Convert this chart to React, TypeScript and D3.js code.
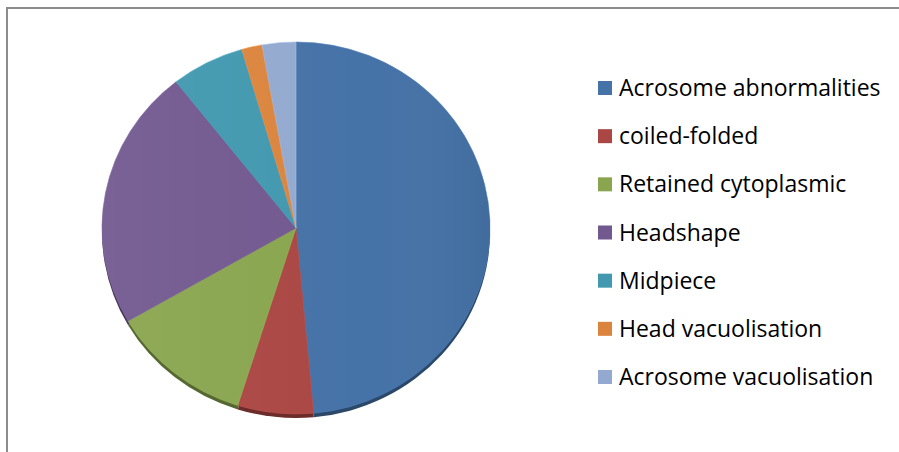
import React, { useRef, useEffect } from "react";
import * as d3 from "d3";

const categories = [
  "Acrosome abnormalities",
  "coiled-folded",
  "Retained cytoplasmic",
  "Headshape",
  "Midpiece",
  "Head vacuolisation",
  "Acrosome vacuolisation",
];
const values = [48.5, 6.3, 11.8, 22.7, 6.1, 1.7, 2.8];
const colors = ["#4572A7", "#AA4643", "#89A54E", "#71588F", "#4198AF", "#DB843D", "#93A9CF"];

const App: React.FC = () => {
  const ref = useRef<SVGSVGElement>(null);

  useEffect(() => {
    const svg = d3.select(ref.current);
    svg.selectAll("*").remove();

    const width = 899,
      height = 452;
    const cx = 296,
      cy = 228,
      rx = 194,
      ry = 186;

    // frame (only top and left edges visible)
    svg
      .append("path")
      .attr("d", `M7,${height} V8 H${width}`)
      .attr("fill", "none")
      .attr("stroke", "#8c8c8c")
      .attr("stroke-width", 2);

    const pie = d3
      .pie<number>()
      .sort(null)
      .value((d) => d);
    const arcs = pie(values);
    const arc = d3.arc<d3.PieArcDatum<number>>().innerRadius(0).outerRadius(rx);

    const defs = svg.append("defs");
    const shade = defs
      .append("linearGradient")
      .attr("id", "shade")
      .attr("x1", 0)
      .attr("x2", 1)
      .attr("y1", 0)
      .attr("y2", 0);
    shade.append("stop").attr("offset", "0%").attr("stop-color", "#fff").attr("stop-opacity", 0.06);
    shade.append("stop").attr("offset", "70%").attr("stop-color", "#fff").attr("stop-opacity", 0);
    shade.append("stop").attr("offset", "100%").attr("stop-color", "#000").attr("stop-opacity", 0.06);

    // 3D edge underneath
    const depth = svg
      .append("g")
      .attr("transform", `translate(${cx},${cy + 4}) scale(1,${ry / rx})`);
    depth
      .selectAll("path")
      .data(arcs)
      .enter()
      .append("path")
      .attr("d", arc)
      .attr("fill", (_, i) => d3.color(colors[i])!.darker(1.3).toString());

    const g = svg
      .append("g")
      .attr("transform", `translate(${cx},${cy}) scale(1,${ry / rx})`);
    g.selectAll("path.slice")
      .data(arcs)
      .enter()
      .append("path")
      .attr("class", "slice")
      .attr("d", arc)
      .attr("fill", (_, i) => colors[i])
      .attr("stroke", (_, i) => d3.color(colors[i])!.brighter(0.3).toString())
      .attr("stroke-width", 0.6);
    g.append("circle").attr("r", rx).attr("fill", "url(#shade)");

    // legend
    const yScale = d3
      .scalePoint<string>()
      .domain(categories)
      .range([88, 377]);
    const legend = svg
      .append("g")
      .selectAll("g")
      .data(categories)
      .enter()
      .append("g")
      .attr("transform", (d) => `translate(598,${yScale(d)})`);
    legend
      .append("rect")
      .attr("x", 0)
      .attr("y", -7)
      .attr("width", 14)
      .attr("height", 14)
      .attr("fill", (_, i) => colors[i]);
    legend
      .append("text")
      .attr("x", 21)
      .attr("y", 8)
      .style("font-family", "'Open Sans', sans-serif")
      .style("font-size", "23px")
      .style("fill", "#000")
      .text((d) => d);
  }, []);

  return (
    <svg
      ref={ref}
      width={899}
      height={452}
      style={{ position: "absolute", left: 0, top: 0, background: "#fff" }}
    />
  );
};

export default App;
